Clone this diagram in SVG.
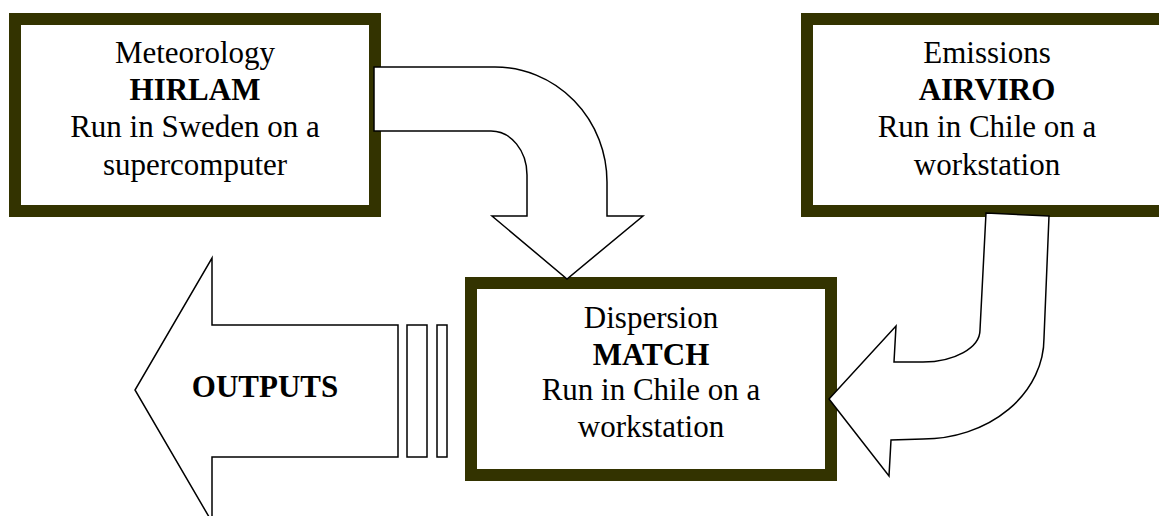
<svg xmlns="http://www.w3.org/2000/svg" width="1159" height="516" viewBox="0 0 1159 516">
<style>
.box{fill:#fff;stroke:#333300;stroke-width:12}
.arrow{fill:#fff;stroke:#000;stroke-width:1.5;stroke-linejoin:miter}
text{font-family:"Liberation Serif","Times New Roman",serif;font-size:31px;fill:#000;text-anchor:middle}
.b{font-weight:bold}
</style>
<rect width="1159" height="516" fill="#fff"/>
<g id="hirlam">
<rect class="box" x="15" y="19" width="360" height="192"/>
<text x="195" y="63">Meteorology</text>
<text class="b" x="195" y="100">HIRLAM</text>
<text x="195" y="137">Run in Sweden on a</text>
<text x="195" y="175">supercomputer</text>
</g>
<g id="airviro">
<rect class="box" x="807" y="19" width="360" height="192"/>
<text x="987" y="63">Emissions</text>
<text class="b" x="987" y="100">AIRVIRO</text>
<text x="987" y="137">Run in Chile on a</text>
<text x="987" y="175">workstation</text>
</g>
<g id="match">
<rect class="box" x="471" y="283" width="360" height="192"/>
<text x="651" y="328">Dispersion</text>
<text class="b" x="651" y="365">MATCH</text>
<text x="651" y="400">Run in Chile on a</text>
<text x="651" y="437">workstation</text>
</g>
<g id="connectors">
<path class="arrow" d="M374,67 L495,67 A112,115 0 0 1 607,182 L607,216 L643,216 L567,279 L492,216 L527,216 L527,175 A36,44 0 0 0 491,131 L374,131 Z"/>
<path class="arrow" d="M986,213 L1049,216 L1044,338 A121,101 0 0 1 923,439 L891,440 L889,476 L829,399 L896,326 L894,362 L923,362 A57,32 0 0 0 980,330 Z"/>
</g>
<g id="outputs">
<path class="arrow" d="M398,325 L212,325 L212,258 L135,390 L212,522 L212,457 L398,457 Z"/>
<rect class="arrow" x="407" y="325" width="20" height="132"/>
<rect class="arrow" x="437" y="325" width="10" height="132"/>
<text class="b" x="265" y="397">OUTPUTS</text>
</g>
</svg>
